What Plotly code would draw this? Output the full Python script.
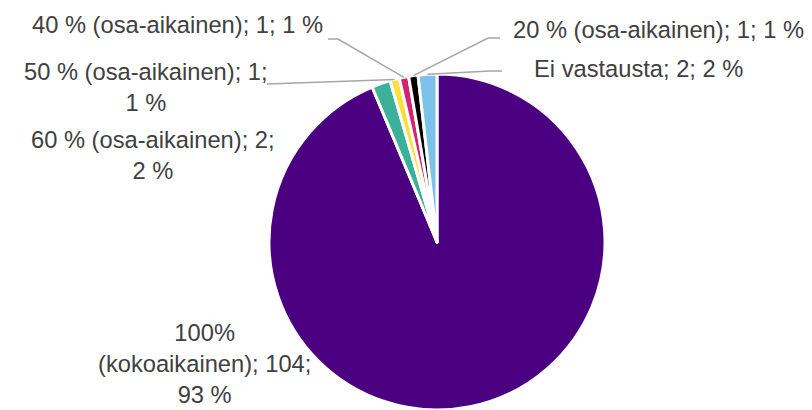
import math
import plotly.graph_objects as go

# Työaikamuoto: vastausten lukumäärät ja osuudet
categories = [
    "100% (kokoaikainen)",
    "60 % (osa-aikainen)",
    "50 % (osa-aikainen)",
    "40 % (osa-aikainen)",
    "20 % (osa-aikainen)",
    "Ei vastausta",
]
counts = [104, 2, 1, 1, 1, 2]
percents = [93, 2, 1, 1, 1, 2]
colors = ["#4B0082", "#3BB19A", "#FFDF3A", "#D5246F", "#000000", "#7CC1E9"]

W, H = 812, 410
CX, CY, R = 437, 242, 168  # pie centre and radius in pixels

def px(x):
    return x / W

def py(y):
    return 1 - y / H

fig = go.Figure(
    go.Pie(
        labels=categories,
        values=counts,
        sort=False,
        direction="clockwise",
        rotation=0,
        marker=dict(colors=colors, line=dict(color="white", width=3)),
        textinfo="none",
        hoverinfo="label+value+percent",
        showlegend=False,
        domain=dict(x=[px(CX - R), px(CX + R)], y=[py(CY + R), py(CY - R)]),
    )
)

# Slice mid angles (clockwise from 12 o'clock) -> edge points for leader lines
total = sum(counts)
edge = []
acc = 0
for c in counts:
    mid = (acc + c / 2) / total * 2 * math.pi
    edge.append((CX + R * math.sin(mid), CY - R * math.cos(mid)))
    acc += c

def label_text(i):
    return f"{categories[i]}; {counts[i]}; {percents[i]} %"

# label layout: (index, text with breaks, x centre, y middle, leader elbow points)
label_specs = [
    (0, f"100%<br>(kokoaikainen); {counts[0]};<br>{percents[0]} %", 204, 364, None),
    (1, f"{categories[1]}; {counts[1]};<br>{percents[1]} %", 153, 155, None),
    (2, f"{categories[2]}; {counts[2]};<br>{percents[2]} %", 146, 88, [(267, 84)]),
    (3, label_text(3), 177, 25, [(328, 39), (338, 39)]),
    (4, label_text(4), 658, 30, [(500, 38), (488, 38)]),
    (5, label_text(5), 638, 69, [(502, 71), (490, 71)]),
]

shapes = []
annotations = []
for idx, text, lx, ly, elbow in label_specs:
    annotations.append(dict(
        x=px(lx), y=py(ly), xref="paper", yref="paper",
        text=text, showarrow=False, xanchor="center", yanchor="middle",
        align="center",
        font=dict(family="Liberation Sans, Arial, sans-serif", size=23.7, color="#404040"),
    ))
    if elbow:
        pts = elbow + [edge[idx]]
        path = "M " + " L ".join(f"{px(x):.5f},{py(y):.5f}" for x, y in pts)
        shapes.append(dict(type="path", path=path, xref="paper", yref="paper",
                           line=dict(color="#A6A6A6", width=1.5)))

fig.update_layout(
    width=W, height=H,
    margin=dict(l=0, r=0, t=0, b=0),
    paper_bgcolor="white",
    plot_bgcolor="white",
    shapes=shapes,
    annotations=annotations,
)

fig.write_html("out.html")
